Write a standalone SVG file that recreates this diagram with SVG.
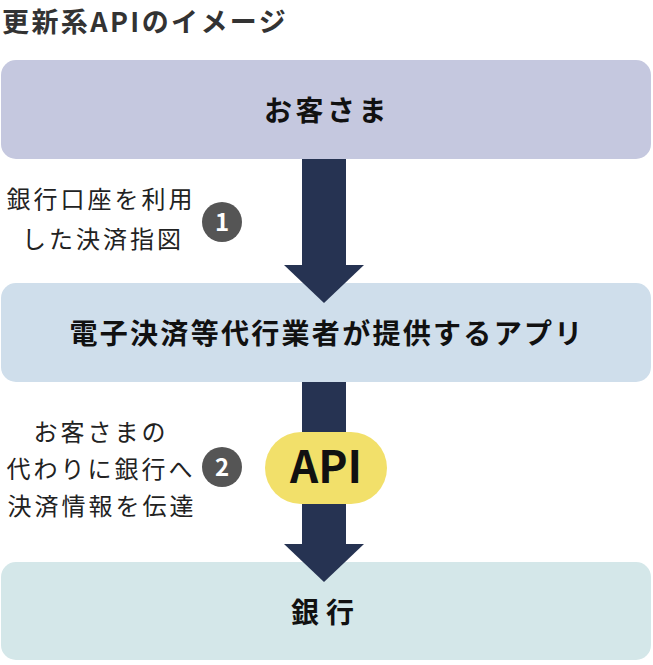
<svg xmlns="http://www.w3.org/2000/svg" width="653" height="665" viewBox="0 0 653 665">
<style>
text{font-family:"Noto Sans CJK JP","Noto Sans",sans-serif}
.title{font-size:27px;font-weight:700;fill:#333;letter-spacing:2.4px}
.box-label{font-size:28px;font-weight:700;fill:#111;text-anchor:middle}
.note{font-size:24px;fill:#222;text-anchor:middle;letter-spacing:3px}
.num{font-size:24px;font-weight:700;fill:#fff;text-anchor:middle}
.arrow{fill:#263352}
</style>
<text class="title" x="2" y="32">更新系APIのイメージ</text>
<g id="customer">
<rect x="1" y="60" width="650" height="99" rx="15" fill="#c5c8df"/>
<text class="box-label" x="327" y="121" letter-spacing="3.5">お客さま</text>
</g>
<g id="app">
<rect x="1" y="283" width="650" height="99" rx="15" fill="#cfdeeb"/>
<text class="box-label" x="327" y="344" letter-spacing="2.3">電子決済等代行業者が提供するアプリ</text>
</g>
<g id="bank">
<rect x="1" y="562" width="650" height="98" rx="15" fill="#d4e7e9"/>
<text class="box-label" x="326" y="623" font-size="31" letter-spacing="7">銀行</text>
</g>
<g id="connectors">
<rect class="arrow" x="302" y="159" width="44" height="107"/>
<polygon class="arrow" points="284,265 364,265 324,303"/>
<rect class="arrow" x="302" y="382" width="44" height="163"/>
<polygon class="arrow" points="284,544 364,544 324,582"/>
</g>
<g id="api">
<rect x="265" y="432" width="122" height="72" rx="36" fill="#f2e06a"/>
<text x="326" y="483" font-size="44" font-weight="700" fill="#111" text-anchor="middle">API</text>
</g>
<g id="step1">
<text class="note" x="101" y="208">銀行口座を利用</text>
<text class="note" x="103" y="248">した決済指図</text>
<circle cx="222" cy="222" r="20" fill="#555"/>
<text class="num" x="222" y="231">1</text>
</g>
<g id="step2">
<text class="note" x="101" y="441">お客さまの</text>
<text class="note" x="101" y="478">代わりに銀行へ</text>
<text class="note" x="102" y="515">決済情報を伝達</text>
<circle cx="222" cy="467" r="20" fill="#555"/>
<text class="num" x="222" y="476">2</text>
</g>
</svg>
